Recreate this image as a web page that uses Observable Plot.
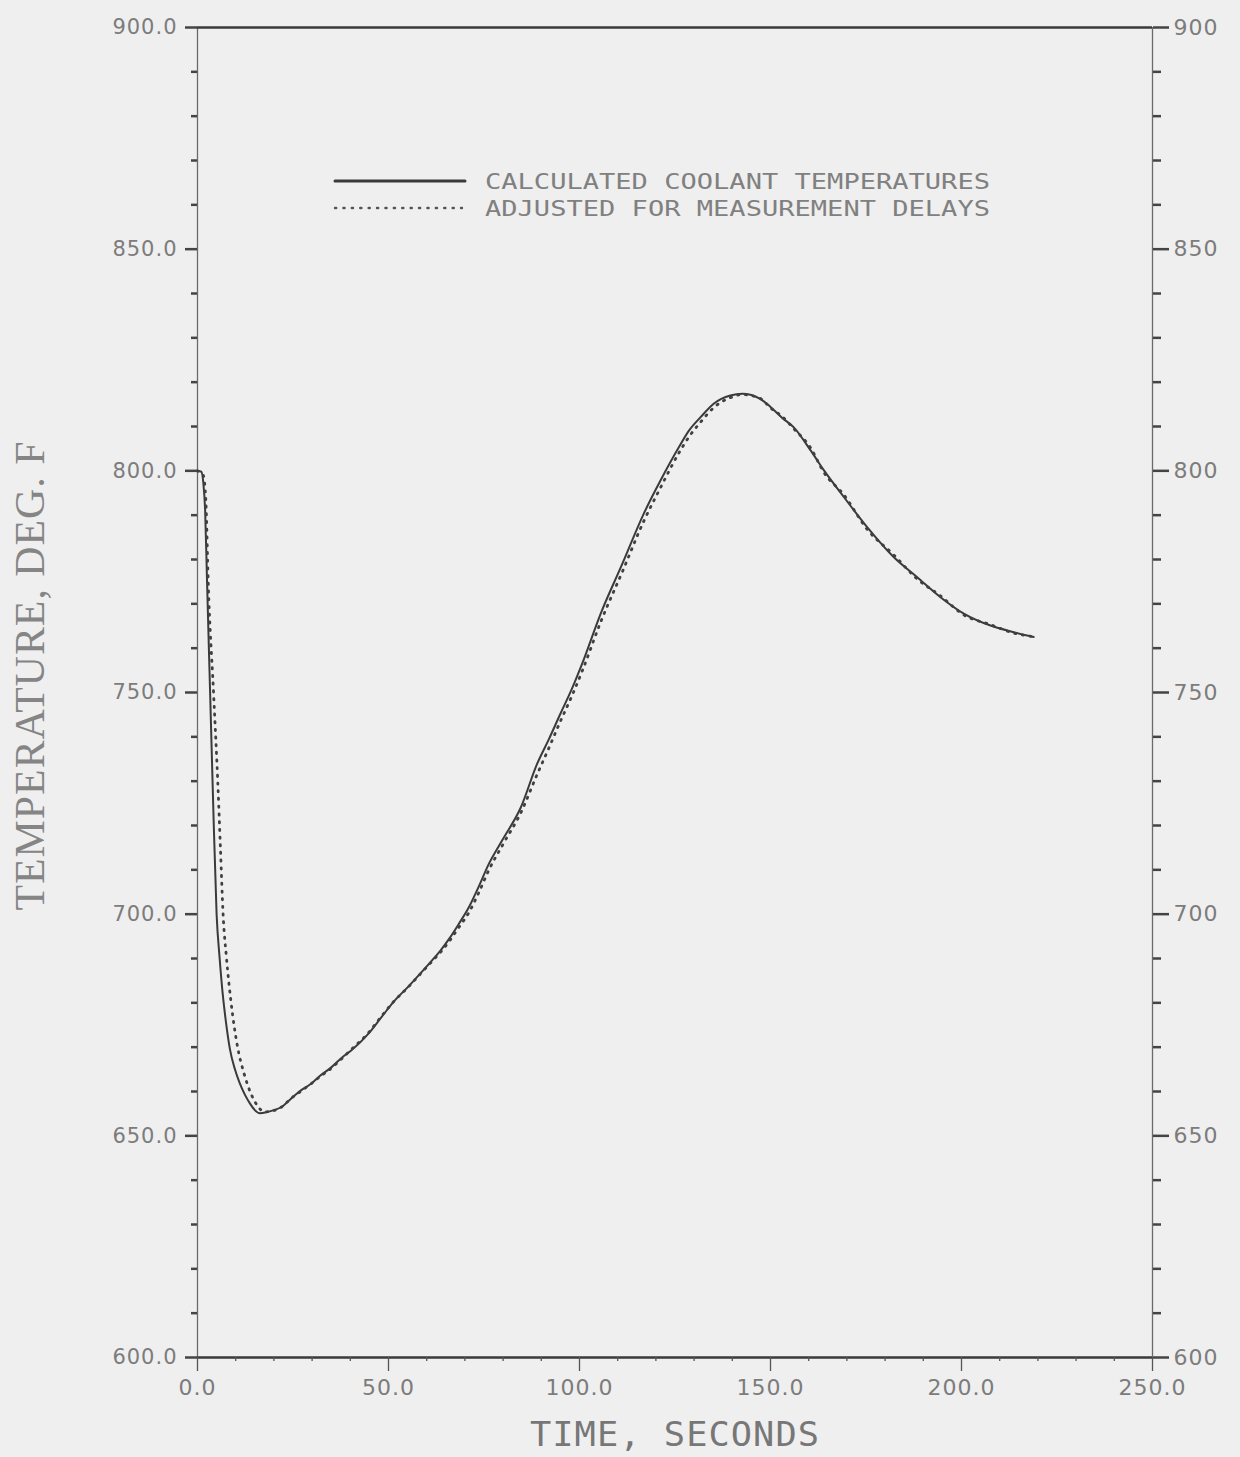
<!DOCTYPE html>
<html>
<head>
<meta charset="utf-8">
<script src="https://cdn.jsdelivr.net/npm/d3@7"></script>
<script src="https://cdn.jsdelivr.net/npm/@observablehq/plot@0.6"></script>
<style>
  html, body { margin: 0; padding: 0; background: #efefef; }
  #wrap { position: relative; width: 1240px; height: 1457px; overflow: hidden; }
  #legend { position: absolute; left: 0; top: 0; pointer-events: none; }
</style>
</head>
<body>
<div id="wrap">
  <div id="chart"></div>
  <svg id="legend" width="1240" height="260"></svg>
</div>
<script>
// ---- data ----
const timeCalc = [0, 1, 1.5, 2, 2.5, 3.3, 4.1, 5, 5.8, 6.6, 7.4, 8.5, 9.8, 11, 12.4, 13.8, 15, 16.3, 18, 20, 22, 24.6, 27, 29.8, 32, 35.1, 38, 40.3, 44.7, 48, 51.6, 55, 58, 61, 63.6, 66, 68.4, 71, 73.5, 76.3, 80, 84.6, 88.9, 92, 95, 98, 100.7, 105.5, 111.2, 116.8, 121.2, 126, 128.6, 131.7, 135.2, 139.5, 142.6, 147.4, 150, 153, 156.1, 160.5, 164, 169.2, 175.3, 182.3, 188.4, 194.5, 200.6, 207.6, 213.7, 218.9];
const tempCalc = [800, 799.8, 797.5, 791, 775, 750, 725, 700, 690, 682, 676, 669.5, 665, 662, 659.3, 657.2, 655.8, 655.1, 655.3, 655.8, 656.5, 658.5, 660.2, 661.8, 663.5, 665.5, 667.8, 669.3, 673, 676.6, 680.5, 683.5, 686.3, 689.2, 691.8, 694.6, 697.8, 701.5, 706, 711.4, 717, 724, 733.9, 739.5, 745.2, 750.8, 756.5, 767.7, 779, 790.3, 797.8, 805.3, 809, 812.1, 815.2, 817, 817.4, 816.2, 814.4, 812, 809.8, 804.6, 800.1, 794.1, 787.3, 780.5, 776, 771.5, 767.8, 765.1, 763.6, 762.5];

const timeAdj = [0, 1.5, 2.2, 2.8, 4.2, 5.3, 6, 6.7, 7.6, 8.8, 10.5, 12.2, 14, 15.7, 17.5, 19.5, 22, 24.6, 27, 29.8, 32, 35.1, 38, 40.3, 44.7, 48, 51.6, 55, 58, 61, 63.6, 66, 68.4, 71, 73.5, 76.3, 80, 84.6, 88.9, 92, 95, 98, 100.7, 105.5, 111.2, 116.8, 121.2, 126, 128.6, 131.7, 135.2, 139.5, 142.6, 147.4, 150, 153, 156.1, 160.5, 164, 169.2, 175.3, 182.3, 188.4, 194.5, 200.6, 207.6, 213.7, 218.9];
const tempAdj = [800, 799, 793, 775, 750, 730, 715, 700, 690, 680, 670, 664, 659.5, 656.8, 655.4, 655.6, 656.5, 658.5, 660, 661.8, 663.3, 665.3, 667.6, 669.5, 673.2, 676.8, 680.5, 683.4, 686.2, 689, 691.4, 694, 697, 700.3, 704.6, 710, 715.8, 722.8, 731.5, 737.5, 743.5, 749.2, 754.8, 765.8, 777.2, 788.6, 796.2, 804, 807.6, 811, 814.3, 816.5, 817.2, 816.3, 814.2, 812.3, 809.5, 805.2, 799.6, 794.6, 786.8, 781, 775.6, 771.8, 767.5, 765.3, 763.4, 762.6];

const xMajorTicks = [0, 50, 100, 150, 200, 250];
const xMinorTicks = [10, 20, 30, 40, 60, 70, 80, 90, 110, 120, 130, 140, 160, 170, 180, 190, 210, 220, 230, 240];
const yMajorTicks = [600, 650, 700, 750, 800, 850, 900];
const yMinorTicks = [610, 620, 630, 640, 660, 670, 680, 690, 710, 720, 730, 740, 760, 770, 780, 790, 810, 820, 830, 840, 860, 870, 880, 890];

const legendLabels = ["CALCULATED COOLANT TEMPERATURES", "ADJUSTED FOR MEASUREMENT DELAYS"];
const xLabel = "TIME, SECONDS";
const yLabel = "TEMPERATURE, DEG. F";

// ---- build tables ----
const calc = timeCalc.map((t, i) => ({t, T: tempCalc[i]}));
const adj = timeAdj.map((t, i) => ({t, T: tempAdj[i]}));

const ink = "#3a3a3a";
const textInk = "#7c7c7c";

const plot = Plot.plot({
  width: 1240,
  height: 1457,
  marginLeft: 197,
  marginRight: 88,
  marginTop: 27,
  marginBottom: 100,
  style: {background: "#efefef", fontFamily: "DejaVu Sans", fontSize: "22px", color: textInk, letterSpacing: "1px"},
  x: {domain: d3.extent(xMajorTicks)},
  y: {domain: d3.extent(yMajorTicks)},
  marks: [
    Plot.ruleX(d3.extent(xMajorTicks), {stroke: "#6a6a6a", strokeWidth: 1.3}),
    Plot.ruleY(d3.extent(yMajorTicks), {stroke: ink, strokeWidth: 2.6}),
    // left axis
    Plot.axisY(yMajorTicks, {anchor: "left", tickSize: 12, tickPadding: 8, tickFormat: d => d.toFixed(1), stroke: "#444", strokeWidth: 2.5, fill: textInk, fontSize: 21, label: null}),
    Plot.axisY(yMinorTicks, {anchor: "left", tickSize: 6, stroke: "#444", strokeWidth: 2.5, fill: "none", label: null}),
    // right axis
    Plot.axisY(yMajorTicks, {anchor: "right", tickSize: 16, tickPadding: 5, tickFormat: d => d.toFixed(0), stroke: "#444", strokeWidth: 2.5, fill: textInk, fontSize: 22, label: null}),
    Plot.axisY(yMinorTicks, {anchor: "right", tickSize: 8, stroke: "#444", strokeWidth: 2.5, fill: "none", label: null}),
    // bottom axis
    Plot.axisX(xMajorTicks, {anchor: "bottom", tickSize: 14, tickPadding: 8, tickFormat: d => d.toFixed(1), stroke: "#555", strokeWidth: 1.3, fill: textInk, fontSize: 22, label: null}),
    Plot.axisX(xMinorTicks, {anchor: "bottom", tickSize: 4, stroke: "#555", strokeWidth: 1.3, fill: "none", label: null}),
    // data
    Plot.line(calc, {x: "t", y: "T", stroke: ink, strokeWidth: 2, curve: "monotone-x"}),
    Plot.line(adj, {x: "t", y: "T", stroke: "#404040", strokeWidth: 2.8, strokeDasharray: "1.2 6.5", strokeLinecap: "round", curve: "monotone-x"}),
    // axis titles
    Plot.text([xLabel], {text: d => d, frameAnchor: "bottom", textAnchor: "middle", dy: 78, lineAnchor: "middle", fontSize: 34, fontFamily: "DejaVu Sans Mono", fill: "#777"}),
    Plot.text([yLabel], {text: d => d, frameAnchor: "left", textAnchor: "middle", dx: -167, dy: -17, rotate: -90, lineAnchor: "middle", fontSize: 42, fontFamily: "Liberation Serif", fill: "#858585"})
  ]
});

document.getElementById("chart").appendChild(plot);

// stretch the titles to the plotter lettering widths
d3.select(plot).selectAll("text")
  .filter(function() { return this.textContent === xLabel; })
  .attr("textLength", 290).attr("lengthAdjust", "spacingAndGlyphs");
d3.select(plot).selectAll("text")
  .filter(function() { return this.textContent === yLabel; })
  .attr("textLength", 470).attr("lengthAdjust", "spacingAndGlyphs");

// ---- legend (overlay) ----
const lg = d3.select("#legend");
const rows = lg.selectAll("g").data(legendLabels).join("g")
  .attr("transform", (d, i) => `translate(335, ${181 + i * 27})`);
rows.append("line")
  .attr("x1", 0).attr("x2", (d, i) => i === 0 ? 130 : 127)
  .attr("y1", 0).attr("y2", 0)
  .attr("stroke", (d, i) => i === 0 ? ink : "#555")
  .attr("stroke-width", (d, i) => i === 0 ? 3 : 2.4)
  .attr("stroke-linecap", "round")
  .attr("stroke-dasharray", (d, i) => i === 0 ? null : "1.2 7.2");
rows.append("text")
  .attr("x", 150).attr("y", 8)
  .attr("font-family", "DejaVu Sans Mono")
  .attr("font-size", 22)
  .attr("fill", "#808080")
  .attr("textLength", 505)
  .attr("lengthAdjust", "spacingAndGlyphs")
  .text(d => d);
</script>
</body>
</html>
